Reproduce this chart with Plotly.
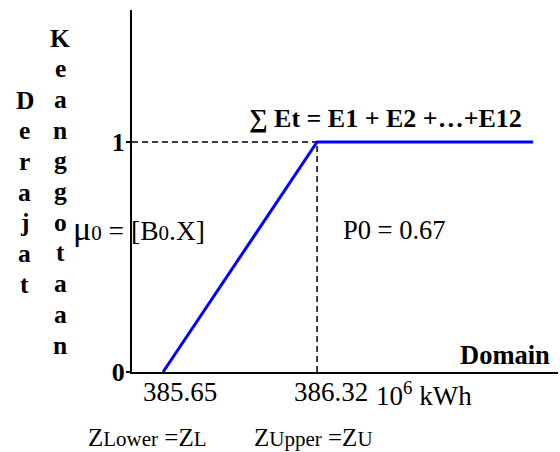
import plotly.graph_objects as go

# ---- data ----
z_lower = 385.65
z_upper = 386.32
x_end = 387.26
x_range = [385.515, 387.368]
y_range = [0, 1.574]

member_x = [z_lower, z_upper, x_end]
member_y = [0, 1, 1]

y_tick_vals = [0, 1]
y_tick_text = ["<b>0</b>", "<b>1</b>"]

title_left = "Derajat"
title_right = "Keanggotaan"

FONT = "Liberation Serif, Times New Roman, serif"

# plot area in pixels
L, R, T, B = 132, 558, 10, 372
W, H = 560, 452


def px(xp):
    return (xp - L) / (R - L)


def py(yp):
    return (B - yp) / (B - T)


fig = go.Figure()

# dashed guides
fig.add_trace(go.Scatter(x=[x_range[0], z_upper], y=[1, 1], mode="lines",
                         line=dict(color="black", width=1.5, dash="6px,4px"),
                         showlegend=False, hoverinfo="skip", cliponaxis=False))
fig.add_trace(go.Scatter(x=[z_upper, z_upper], y=[0, 1], mode="lines",
                         line=dict(color="black", width=1.5, dash="6px,4px"),
                         showlegend=False, hoverinfo="skip", cliponaxis=False))
# membership function
fig.add_trace(go.Scatter(x=member_x, y=member_y, mode="lines",
                         line=dict(color="#0000FF", width=3),
                         showlegend=False, hoverinfo="skip", cliponaxis=False))

ann = []


def add(text, x, y, size, xanchor="center", yanchor="middle", xref="paper", yref="paper", **kw):
    ann.append(dict(text=text, x=x, y=y, xref=xref, yref=yref, showarrow=False,
                    xanchor=xanchor, yanchor=yanchor,
                    font=dict(family=FONT, size=size, color="black"), **kw))


# x labels
add("385.65", z_lower, py(392), 27, xref="x", xshift=17)
add("386.32", z_upper, py(392), 27, xref="x", xshift=14)
add("10<sup>6</sup> kWh", px(424), py(394), 27)
add("Z<span style='font-size:21px'>Lower</span> =Z<span style='font-size:21px'>L</span>",
    px(147), py(437), 25)
add("Z<span style='font-size:21px'>Upper</span> =Z<span style='font-size:21px'>U</span>",
    px(313), py(437), 25)
add("<b>Domain</b>", px(552), py(355), 26.5, xanchor="right")
add("<b>\u2211 Et = E1 + E2 +\u2026+E12</b>", px(385), py(118), 26)
add("P0 = 0.67", px(394), py(230), 26.5)
add("<span style='font-size:34px'>\u03bc</span><span style='font-size:21px'>0</span> = "
    "[B<span style='font-size:21px'>0</span>.X]", px(71), py(228), 27.5, xanchor="left")

# vertical y title, one letter per row
row_gap = 30.7
for i, c in enumerate(title_left):
    add("<b>%s</b>" % c, px(25), py(100 + i * row_gap), 25.5)
for i, c in enumerate(title_right):
    add("<b>%s</b>" % c, px(60), py(38 + i * row_gap), 25.5)

fig.update_layout(
    width=W, height=H,
    margin=dict(l=L, r=W - R, t=T, b=H - B),
    paper_bgcolor="white", plot_bgcolor="white",
    annotations=ann,
    xaxis=dict(range=x_range, showgrid=False, zeroline=False, showline=True,
               linecolor="black", linewidth=2, showticklabels=False, ticks=""),
    yaxis=dict(range=y_range, showgrid=False, zeroline=False, showline=True,
               linecolor="black", linewidth=2, tickvals=y_tick_vals,
               ticktext=y_tick_text, ticks="outside", ticklen=4, tickwidth=1.5,
               tickcolor="black", ticklabelstandoff=-4,
               tickfont=dict(family=FONT, size=26, color="black")),
)

fig.write_html("out.html")
